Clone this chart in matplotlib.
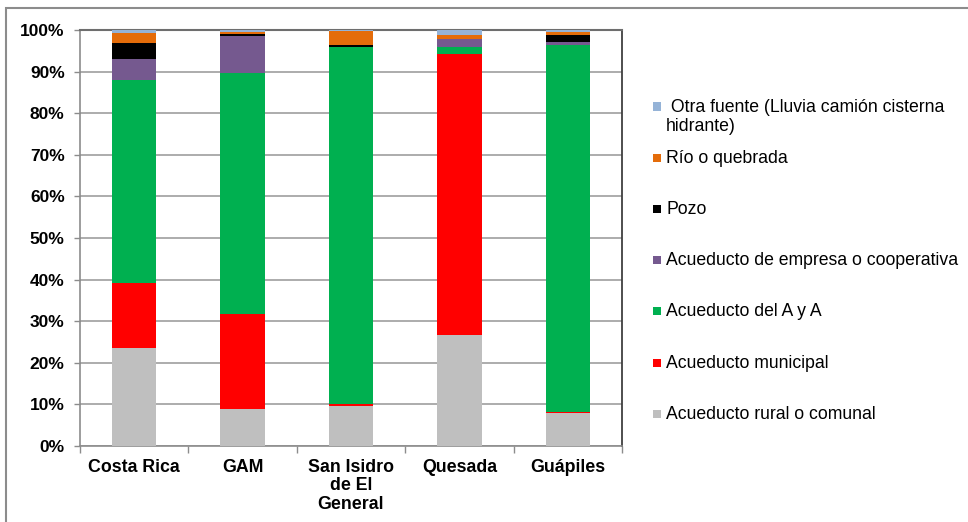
import matplotlib
matplotlib.use("Agg")
import matplotlib.pyplot as plt
from matplotlib.patches import Rectangle
import numpy as np

plt.rcParams['font.family'] = ['Liberation Sans', 'DejaVu Sans']

# Regions and water-source shares (%), stacked bottom to top
regions = ["Costa Rica", "GAM", "San Isidro\nde El\nGeneral", "Quesada", "Guápiles"]
series_names = [
    "Acueducto rural o comunal",
    "Acueducto municipal",
    "Acueducto del A y A",
    "Acueducto de empresa o cooperativa",
    "Pozo",
    "Río o quebrada",
    " Otra fuente (Lluvia camión cisterna\nhidrante)",
]
rural       = [23.6,  8.8,  9.7, 26.7,  7.9]
municipal   = [15.6, 22.9,  0.3, 67.5,  0.3]
aya         = [48.8, 58.0, 85.8,  1.8, 88.3]
empresa     = [ 5.0,  8.8,  0.0,  1.8,  0.6]
pozo        = [ 3.9,  0.5,  0.5,  0.0,  1.7]
rio         = [ 2.4,  0.5,  3.4,  0.9,  0.6]
otra        = [ 0.7,  0.5,  0.3,  1.3,  0.6]
series = [rural, municipal, aya, empresa, pozo, rio, otra]
colors = ["#BFBFBF", "#FF0000", "#00B050", "#75598F", "#000000", "#E46C0A", "#95B3D7"]
yticks = [0, 10, 20, 30, 40, 50, 60, 70, 80, 90, 100]

W, H = 968, 522
fig = plt.figure(figsize=(W / 100, H / 100), dpi=100)
ax = fig.add_axes([80 / W, 1 - 446 / H, (622 - 80) / W, (446 - 30) / H])

x = np.arange(len(regions))
bottom = np.zeros(len(regions))
for vals, col in zip(series, colors):
    v = np.array(vals)
    ax.bar(x, v, bottom=bottom, width=0.41, color=col, linewidth=0, zorder=3)
    bottom += v

ax.set_xlim(-0.5, len(regions) - 0.5)
ax.set_ylim(0, 100)
ax.set_yticks(yticks)
ax.set_yticklabels([f"{t}%" for t in yticks], fontsize=12.5, fontweight='bold')
ax.yaxis.grid(True, color="#A6A6A6", linewidth=1.3, zorder=0)
ax.tick_params(axis='y', length=4, width=1, color="#8C8C8C", pad=7)

ax.set_xticks(x)
ax.set_xticklabels(regions, fontsize=12.8, fontweight='bold', linespacing=1.15)
ax.tick_params(axis='x', which='major', length=0, pad=9)
ax.set_xticks(np.arange(-0.5, len(regions)), minor=True)
ax.tick_params(axis='x', which='minor', length=5, width=1, color="#8C8C8C")

for s in ("left", "bottom"):
    ax.spines[s].set_color("#8C8C8C")
    ax.spines[s].set_linewidth(1.2)
ax.spines["top"].set_color("#6E6E6E")
ax.spines["top"].set_linewidth(1.5)
ax.spines["right"].set_color("#404040")
ax.spines["right"].set_linewidth(1.3)

# Legend drawn top-down, last series first
slot0, step = 106, 51.2
for k, (name, col) in enumerate(zip(series_names[::-1], colors[::-1])):
    yc = slot0 + k * step
    fig.patches.append(Rectangle((653 / W, 1 - (yc + 4.5) / H), 8 / W, 8 / H,
                                 transform=fig.transFigure, facecolor=col,
                                 edgecolor='none'))
    fig.text(666 / W, 1 - (yc - 7.5) / H, name, fontsize=12.7, va='top', ha='left',
             linespacing=1.2, color="#000000")

# Outer chart frame
fig.patches.append(Rectangle((6 / W, -0.1), 1.2, 1 - 8 / H + 0.1,
                             transform=fig.transFigure, facecolor='none',
                             edgecolor="#8C8C8C", linewidth=1.5))

fig.savefig("out.png", dpi=100)
